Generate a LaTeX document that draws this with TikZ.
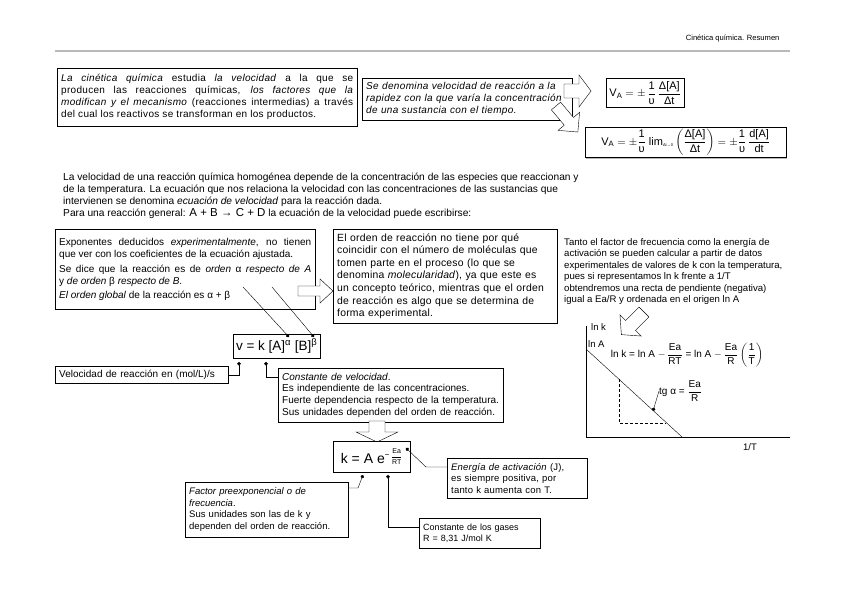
\documentclass[tikz,border=0pt]{standalone}
\usepackage{fontspec}
\setmainfont{Liberation Sans}
\usepackage{amsmath}
\usetikzlibrary{arrows.meta,positioning,shadows}

\newcommand{\cuerpo}{\fontsize{10}{12}\selectfont}
\newcommand{\menor}{\fontsize{9.5}{11.6}\selectfont}
\newcommand{\espaciado}[1]{\addfontfeature{LetterSpace=#1}}
% flecha gruesa: base, angulo, largo, medio ancho cuerpo, medio ancho punta, largo punta
\newcommand{\flechabloque}[6]{%
  \draw[thin, fill=white, shift={#1}, rotate=#2]
    (0,-#4) -- ({#3-#6},-#4) -- ({#3-#6},-#5) -- (#3,0) -- ({#3-#6},#5) -- ({#3-#6},#4) -- (0,#4) -- cycle;}

\tikzset{
  caja/.style={draw, thin, fill=white, anchor=north west, inner sep=4pt, align=left,
    drop shadow={opacity=1, fill=gray!55, shadow xshift=1.2pt, shadow yshift=-1.2pt}},
  formula/.style={draw, thin, fill=white, anchor=north west, inner sep=2pt,
    drop shadow={opacity=1, fill=gray!55, shadow xshift=1.2pt, shadow yshift=-1.2pt}},
  punto/.style={{Circle[length=3.6pt]}-, thin},
}

\begin{document}
\begin{tikzpicture}[x=1pt,y=-1pt]
\useasboundingbox (0,0) rectangle (848,599);

% Cabecera
\node[anchor=south east, font=\fontsize{7.6}{9}\selectfont] (cabecera) at (783,46) {Cinética química. Resumen};
\draw[gray!55, line width=1.2pt] (55,51) -- (790,51);

% Definiciones de arriba
\node[caja, text width=292pt, minimum height=58, align=justify, font=\cuerpo\espaciado{3}] (cinetica) at (57,68)
  {\textit{La cinética química} estudia \textit{la velocidad} a la que se\linebreak
   producen las reacciones químicas, \textit{los factores que la}\linebreak
   \textit{modifican y el mecanismo} (reacciones intermedias) a través\linebreak
   del cual los reactivos se transforman en los productos.};

\node[caja, text width=202pt, minimum height=42, font=\cuerpo\itshape\espaciado{3.5}] (defVel) at (362,78)
  {Se denomina velocidad de reacción a la\\
   rapidez con la que varía la concentración\\
   de una sustancia con el tiempo.};

\flechabloque{(564,91)}{0}{27}{7}{16}{12}
\flechabloque{(556,106)}{-50}{34}{6}{14}{14}

\node[formula, minimum width=78, minimum height=29, font=\fontsize{11}{13}\selectfont] (vA) at (606,78)
  {$\text{V}_{\text{A}} = \pm\,\dfrac{\text{1}}{\text{υ}}\,\dfrac{\text{Δ[A]}}{\text{Δt}}$};

\node[formula, minimum width=201, minimum height=30, font=\fontsize{11}{12}\selectfont] (vAlim) at (585,127)
  {$\text{V}_{\text{A}} = \pm\dfrac{\text{1}}{\text{υ}}\ \text{lim}_{\text{\fontsize{4}{4}\selectfont Δt→0}}
   \left(\dfrac{\text{Δ[A]}}{\text{Δt}}\right) = \pm\dfrac{\text{1}}{\text{υ}}\,\dfrac{\text{d[A]}}{\text{dt}}$};

% Parrafo central
\node[anchor=north west, align=left, inner sep=0pt, font=\fontsize{10.2}{11.8}\selectfont] (parrafo) at (63,173)
  {La velocidad de una reacción química homogénea depende de la concentración de las especies que reaccionan y\\
   de la temperatura. La ecuación que nos relaciona la velocidad con las concentraciones de las sustancias que\\
   intervienen se denomina \textit{ecuación de velocidad} para la reacción dada.\\
   Para una reacción general: {\fontsize{11.5}{12}\selectfont A + B → C + D} la ecuación de la velocidad puede escribirse:};

% Ecuacion de velocidad
\node[caja, text width=252pt, minimum height=80, align=justify, font=\cuerpo] (exponentes) at (55,229)
  {Exponentes deducidos \textit{experimentalmente}, no tienen\linebreak
   que ver con los coeficientes de la ecuación ajustada.\par\vspace{3pt}
   Se dice que la reacción es de \textit{orden} α \textit{respecto de A}\linebreak
   y \textit{de orden} β \textit{respecto de B}.\par\vspace{2pt}
   \textit{El orden global} de la reacción es α + β};

\flechabloque{(298,291)}{0}{35}{5}{12}{13}

\node[caja, text width=216pt, minimum height=94, font=\fontsize{10.4}{12.6}\selectfont\espaciado{2}] (orden) at (333,229)
  {El orden de reacción no tiene por qué\\
   coincidir con el número de moléculas que\\
   tomen parte en el proceso (lo que se\\
   denomina \textit{molecularidad}), ya que este es\\
   un concepto teórico, mientras que el orden\\
   de reacción es algo que se determina de\\
   forma experimental.};

\node[formula, minimum width=87, minimum height=24, font=\fontsize{13.5}{15}\selectfont] (ecVel) at (233,334)
  {v = k [A]\textsuperscript{α} [B]\textsuperscript{β}};

\node[caja, text width=165pt, minimum height=17, inner ysep=2pt, font=\cuerpo] (unidades) at (55,366)
  {Velocidad de reacción en (mol/L)/s};

\node[caja, text width=217pt, minimum height=54, font=\fontsize{10}{11.6}\selectfont] (constante) at (278,368)
  {\textit{Constante de velocidad}.\\
   Es independiente de las concentraciones.\\
   Fuerte dependencia respecto de la temperatura.\\
   Sus unidades dependen del orden de reacción.};

\flechabloque{(377,421)}{-90}{21}{8}{21}{10}

% Ecuacion de Arrhenius
\node[formula, minimum width=77, minimum height=31, font=\fontsize{14}{16}\selectfont] (arrhenius) at (333,441)
  {k = A e\raisebox{6pt}{\fontsize{8}{8}\selectfont −}\hspace{1.5pt}\raisebox{4pt}{\fontsize{7}{8}\selectfont
   $\dfrac{\text{Ea}}{\text{RT}}$}};

\node[caja, text width=132pt, minimum height=40, font=\menor\espaciado{2}] (energia) at (447,458)
  {\textit{Energía de activación} (J),\\
   es siempre positiva, por\\
   tanto k aumenta con T.};

\node[caja, text width=155pt, minimum height=55, font=\menor] (factor) at (185,482)
  {\textit{Factor preexponencial o de}\\
   \textit{frecuencia}.\\
   Sus unidades son las de k y\\
   dependen del orden de reacción.};

\node[caja, text width=113pt, minimum height=30, font=\fontsize{9}{11.6}\selectfont] (gases) at (419,518)
  {Constante de los gases\\
   R = 8,31 J/mol K};

% Grafica de Arrhenius
\node[anchor=north west, align=left, inner sep=0pt, font=\fontsize{9.6}{11.5}\selectfont] (frecuencia) at (564,238)
  {Tanto el factor de frecuencia como la energía de\\
   activación se pueden calcular a partir de datos\\
   experimentales de valores de k con la temperatura,\\
   pues si representamos ln k frente a 1/T\\
   obtendremos una recta de pendiente (negativa)\\
   igual a Ea/R y ordenada en el origen ln A};

\flechabloque{(644,312)}{-135}{32}{7}{15}{13}

\draw (586,326) -- (586,437) -- (790,437);
\draw (586,349) -- (682,437);
\draw[densely dashed] (619,379) -- (619,423) -- (666,423);
\node[anchor=west, inner sep=0pt, font=\menor] (lnk) at (591,327) {ln k};
\node[anchor=west, inner sep=0pt, font=\menor] (lnA) at (588,344) {ln A};
\node[inner sep=0pt, font=\menor] (invT) at (750,447) {1/T};
\node[inner sep=0pt, font=\fontsize{10}{12}\selectfont] (ecRecta) at (687,355)
  {ln k = ln A $-\,\dfrac{\text{Ea}}{\text{RT}}$ = ln A $-\,\dfrac{\text{Ea}}{\text{R}}\left(\dfrac{\text{1}}{\text{T}}\right)$};
\node[anchor=west, inner sep=0pt, font=\fontsize{10}{12}\selectfont] (pendiente) at (659,391)
  {tg α = $\dfrac{\text{Ea}}{\text{R}}$};
\coordinate (pRecta) at (653,411);
\draw[punto] (pRecta) -- (pendiente.west);

% Conectores
\coordinate (pAlfa) at (289,337);
\coordinate (pBeta) at (314,337);
\coordinate (oAlfa) at (243,287);
\coordinate (oBeta) at (272,287);
\draw[punto] (pAlfa) -- (oAlfa);
\draw[punto] (pBeta) -- (oBeta);

\coordinate (pV) at (239,362);
\coordinate (pK) at (266,362);
\draw[punto] (pV) -- (239,375) -- (unidades.east |- 0,375);
\draw[punto] (pK) -- (266,377) -- (constante.west |- 0,377);

\coordinate (pEa) at (406,448);
\coordinate (pA) at (363,475);
\coordinate (pRT) at (388,475);
\draw[punto] (pEa) -- (426,467) -- (energia.west |- 0,467);
\draw[punto] (pA) -- (358,488) -- (factor.east |- 0,488);
\draw[punto] (pRT) -- (388,527) -- (gases.west |- 0,527);
\end{tikzpicture}
\end{document}
